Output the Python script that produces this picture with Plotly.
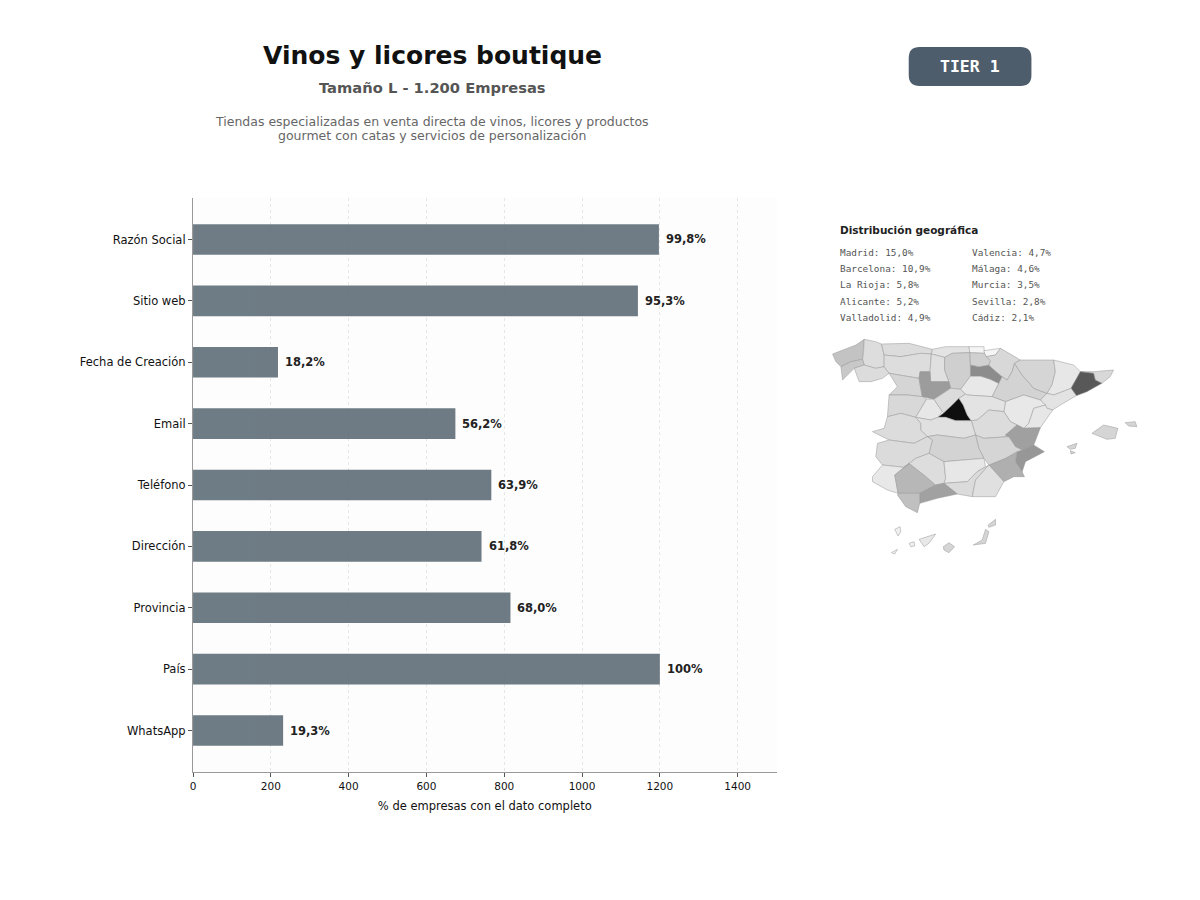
import plotly.graph_objects as go
from plotly.colors import sample_colorscale

W, H = 1200, 900

# Datos de las barras
campos = ['Razón Social', 'Sitio web', 'Fecha de Creación', 'Email', 'Teléfono',
          'Dirección', 'Provincia', 'País', 'WhatsApp']
empresas = [1197.6, 1143.6, 218.4, 674.4, 766.8, 741.6, 816, 1200, 231.6]
etiquetas = ['99,8%', '95,3%', '18,2%', '56,2%', '63,9%', '61,8%', '68,0%', '100%', '19,3%']
ticks_x = [0, 200, 400, 600, 800, 1000, 1200, 1400]

# Leyenda geográfica
geo_izq = ['Madrid: 15,0%', 'Barcelona: 10,9%', 'La Rioja: 5,8%', 'Alicante: 5,2%', 'Valladolid: 4,9%']
geo_der = ['Valencia: 4,7%', 'Málaga: 4,6%', 'Murcia: 3,5%', 'Sevilla: 2,8%', 'Cádiz: 2,1%']

# Peso de cada provincia (estimado del tono en el mapa) y contorno aproximado
provincias = {
    'A Coruña': (2.0, [(35, 72), (72, 58), (105, 45), (130, 28), (128, 70), (125, 88), (90, 95), (60, 110), (45, 95)]),
    'Lugo': (1.0, [(130, 28), (165, 35), (182, 42), (190, 75), (190, 110), (165, 115), (130, 105), (125, 88), (128, 70)]),
    'Pontevedra': (1.8, [(60, 110), (90, 95), (125, 88), (130, 105), (100, 115), (65, 150)]),
    'Ourense': (1.05, [(100, 115), (130, 105), (165, 115), (190, 110), (205, 130), (185, 145), (150, 155), (115, 155)]),
    'Asturias': (1.05, [(182, 42), (265, 40), (335, 58), (332, 72), (300, 70), (240, 80), (190, 75)]),
    'Cantabria': (0.8, [(335, 58), (375, 50), (445, 50), (448, 68), (395, 70), (372, 82), (332, 72)]),
    'León': (1.0, [(190, 75), (240, 80), (300, 70), (332, 72), (328, 125), (298, 125), (295, 145), (240, 135), (205, 130), (190, 110)]),
    'Palencia': (0.9, [(332, 72), (372, 82), (372, 120), (385, 155), (330, 155), (328, 125)]),
    'Burgos': (1.55, [(372, 82), (395, 70), (448, 68), (450, 105), (450, 138), (420, 178), (390, 175), (385, 155), (372, 120)]),
    'Zamora': (1.3, [(205, 130), (240, 135), (295, 145), (298, 165), (305, 200), (260, 195), (205, 195), (230, 170)]),
    'Valladolid': (4.9, [(298, 125), (328, 125), (330, 155), (385, 155), (390, 175), (340, 208), (305, 200), (298, 165), (295, 145)]),
    'Salamanca': (1.2, [(205, 195), (260, 195), (305, 200), (318, 207), (285, 262), (240, 250), (200, 260)]),
    'Ávila': (0.65, [(318, 207), (340, 208), (365, 245), (352, 262), (330, 270), (285, 262)]),
    'Segovia': (1.05, [(340, 208), (390, 175), (420, 178), (435, 192), (415, 205), (395, 225), (370, 248), (365, 245)]),
    'Madrid': (15.0, [(415, 205), (428, 225), (440, 255), (452, 272), (405, 272), (375, 262), (352, 262), (370, 248), (395, 225)]),
    'Soria': (0.6, [(420, 178), (450, 138), (480, 138), (510, 148), (535, 160), (515, 200), (440, 195), (435, 192)]),
    'La Rioja': (5.8, [(450, 105), (475, 110), (505, 105), (515, 115), (545, 140), (535, 160), (510, 148), (480, 138), (450, 138)]),
    'Vizcaya': (0.15, [(445, 50), (490, 50), (492, 70), (448, 68)]),
    'Guipúzcoa': (0.1, [(490, 62), (540, 55), (525, 75), (497, 80), (492, 70)]),
    'Álava': (1.5, [(448, 68), (492, 70), (497, 80), (510, 92), (505, 105), (475, 110), (450, 105)]),
    'Navarra': (1.2, [(497, 80), (525, 75), (540, 55), (565, 70), (600, 90), (582, 100), (575, 125), (560, 150), (545, 140), (515, 115), (505, 105), (510, 92)]),
    'Zaragoza': (1.4, [(575, 125), (582, 100), (605, 135), (640, 175), (680, 190), (660, 210), (610, 195), (555, 215), (515, 200), (535, 160), (545, 140), (560, 150)]),
    'Huesca': (1.3, [(600, 90), (700, 90), (705, 125), (695, 165), (680, 190), (640, 175), (605, 135), (582, 100)]),
    'Lleida': (0.65, [(700, 90), (760, 105), (780, 125), (770, 145), (752, 175), (700, 195), (680, 190), (695, 165), (705, 125)]),
    'Girona': (1.2, [(780, 125), (820, 125), (880, 120), (870, 140), (845, 160), (825, 150), (820, 130)]),
    'Barcelona': (10.9, [(780, 125), (820, 130), (825, 150), (845, 160), (800, 185), (768, 197), (752, 175), (770, 145)]),
    'Tarragona': (0.8, [(680, 190), (700, 195), (752, 175), (768, 197), (720, 225), (697, 240), (680, 235), (675, 225), (660, 210)]),
    'Teruel': (0.6, [(555, 215), (610, 195), (660, 210), (675, 225), (640, 235), (625, 280), (610, 295), (590, 285), (570, 275), (550, 245)]),
    'Castellón': (0.65, [(640, 235), (675, 225), (680, 235), (697, 240), (660, 293), (610, 295), (625, 280)]),
    'Guadalajara': (0.8, [(435, 192), (440, 195), (515, 200), (555, 215), (550, 245), (505, 240), (470, 270), (452, 272), (440, 255), (428, 225), (415, 205)]),
    'Cuenca': (1.05, [(452, 272), (470, 270), (505, 240), (550, 245), (570, 275), (590, 285), (555, 315), (565, 320), (490, 325), (465, 315)]),
    'Valencia': (4.7, [(590, 285), (610, 295), (660, 293), (640, 345), (605, 360), (585, 350), (565, 320), (555, 315)]),
    'Alicante': (5.2, [(605, 360), (640, 345), (672, 365), (615, 395), (605, 425), (585, 395), (590, 365)]),
    'Murcia': (3.5, [(505, 405), (555, 385), (590, 365), (585, 395), (605, 425), (612, 440), (580, 440), (550, 455)]),
    'Albacete': (1.3, [(465, 315), (490, 325), (565, 320), (585, 350), (605, 360), (590, 365), (555, 385), (505, 405), (490, 385), (475, 355)]),
    'Toledo': (0.9, [(300, 280), (285, 262), (330, 270), (352, 262), (375, 262), (405, 272), (452, 272), (465, 315), (430, 325), (385, 320), (350, 315), (320, 320), (300, 300)]),
    'Ciudad Real': (1.4, [(335, 330), (320, 320), (350, 315), (385, 320), (430, 325), (465, 315), (475, 355), (490, 385), (370, 395), (325, 370)]),
    'Cáceres': (1.05, [(155, 305), (190, 295), (200, 260), (240, 250), (285, 262), (300, 280), (300, 300), (320, 320), (280, 340), (205, 330)]),
    'Badajoz': (1.1, [(170, 340), (205, 330), (280, 340), (320, 320), (335, 330), (325, 370), (285, 385), (250, 412), (185, 405), (165, 380)]),
    'Huelva': (0.6, [(155, 440), (185, 405), (250, 412), (222, 435), (232, 490), (200, 480), (155, 455)]),
    'Sevilla': (2.8, [(222, 435), (250, 412), (265, 400), (310, 435), (345, 465), (297, 490), (232, 490)]),
    'Córdoba': (1.0, [(250, 412), (285, 385), (325, 370), (370, 395), (375, 445), (370, 460), (345, 465), (310, 435), (265, 400)]),
    'Jaén': (0.65, [(370, 395), (490, 385), (495, 410), (470, 425), (440, 455), (370, 460), (375, 445)]),
    'Granada': (1.1, [(370, 460), (440, 455), (470, 425), (495, 410), (505, 405), (465, 450), (455, 500), (410, 492)]),
    'Almería': (0.9, [(505, 405), (550, 455), (525, 500), (455, 500), (465, 450)]),
    'Málaga': (4.6, [(297, 520), (297, 490), (345, 465), (370, 460), (410, 492), (350, 505)]),
    'Cádiz': (2.1, [(232, 490), (297, 490), (297, 520), (290, 548), (255, 530), (230, 495)]),
    'Mallorca': (1.3, [(815, 310), (850, 285), (893, 295), (885, 325), (860, 328)]),
    'Menorca': (1.3, [(915, 278), (945, 275), (950, 290), (925, 288)]),
    'Ibiza': (1.3, [(740, 350), (770, 340), (765, 355), (750, 358)]),
    'Formentera': (1.3, [(750, 362), (765, 368), (752, 372)]),
    'Lanzarote': (1.3, [(503, 585), (525, 568), (525, 585), (505, 592)]),
    'Fuerteventura': (1.3, [(458, 645), (485, 630), (495, 598), (505, 605), (495, 640)]),
    'Gran Canaria': (1.3, [(368, 650), (385, 638), (402, 650), (385, 668), (370, 660)]),
    'Tenerife': (0.6, [(295, 628), (345, 612), (325, 640), (310, 650)]),
    'La Gomera': (0.3, [(265, 640), (280, 635), (282, 648), (270, 650)]),
    'La Palma': (0.3, [(222, 598), (238, 590), (240, 605), (232, 618)]),
    'El Hierro': (0.3, [(212, 668), (230, 658), (222, 672)]),
}

# Escala de grises del mapa, en % de empresas
TOPE_GEO = 15.0
escala_geo = [[0, '#f8f8f8'], [2.1 / TOPE_GEO, '#c0c0c0'], [4.7 / TOPE_GEO, '#a0a0a0'],
              [5.8 / TOPE_GEO, '#8c8c8c'], [10.9 / TOPE_GEO, '#585858'], [1, '#0f0f0f']]


def px_x(x):
    return x / W


def px_y(y):
    return 1 - y / H


def texto(x, y, txt, size, color, family='DejaVu Sans', anchor='center'):
    return dict(x=px_x(x), y=px_y(y), xref='paper', yref='paper', text=txt, showarrow=False,
                xanchor=anchor, yanchor='middle',
                font=dict(size=size, color=color, family=family))


fig = go.Figure()

fig.add_trace(go.Bar(
    x=empresas, y=campos, orientation='h', width=0.5,
    marker=dict(color='#5f6e79', line=dict(width=0)), opacity=0.9,
    hoverinfo='x+y', showlegend=False
))

for nombre, (peso, contorno) in provincias.items():
    xs = [p[0] for p in contorno] + [contorno[0][0]]
    ys = [p[1] for p in contorno] + [contorno[0][1]]
    color = sample_colorscale(escala_geo, [peso / TOPE_GEO])[0]
    fig.add_trace(go.Scatter(
        x=xs, y=ys, xaxis='x2', yaxis='y2', mode='lines', fill='toself', fillcolor=color,
        line=dict(color='#979797', width=0.5), name=nombre, hoverinfo='name', showlegend=False
    ))

anotaciones = [
    texto(430.5, 56, '<b>Vinos y licores boutique</b>', 25, '#111111'),
    texto(430.5, 87, '<b>Tamaño L - 1.200 Empresas</b>', 14.7, '#555555'),
    texto(430, 122, 'Tiendas especializadas en venta directa de vinos, licores y productos', 12.5, '#666666'),
    texto(430, 136, 'gourmet con catas y servicios de personalización', 12.5, '#666666'),
    texto(969, 66, '<b>TIER 1</b>', 16.5, '#ffffff', family='DejaVu Sans Mono'),
    texto(837.5, 230, '<b>Distribución geográfica</b>', 10.5, '#222222', anchor='left'),
]

for i, fila_y in enumerate([252, 268.3, 284.6, 301, 317.3]):
    anotaciones.append(texto(837.5, fila_y, geo_izq[i], 9.4, '#555555', family='DejaVu Sans Mono', anchor='left'))
    anotaciones.append(texto(969.5, fila_y, geo_der[i], 9.4, '#555555', family='DejaVu Sans Mono', anchor='left'))

for campo, valor, etiqueta in zip(campos, empresas, etiquetas):
    anotaciones.append(dict(x=valor, y=campo, xref='x', yref='y', text=f'<b>{etiqueta}</b>', showarrow=False,
                            xanchor='left', xshift=5, font=dict(size=11.5, color='#222222', family='DejaVu Sans')))

# Placa TIER 1 con esquinas redondeadas
x0, x1, y0, y1, r = px_x(908), px_x(1031), px_y(86), px_y(47), 11
rx, ry = r / W, r / H
placa = (f'M {x0 + rx} {y0} L {x1 - rx} {y0} Q {x1} {y0} {x1} {y0 + ry} L {x1} {y1 - ry} '
         f'Q {x1} {y1} {x1 - rx} {y1} L {x0 + rx} {y1} Q {x0} {y1} {x0} {y1 - ry} '
         f'L {x0} {y0 + ry} Q {x0} {y0} {x0 + rx} {y0} Z')

fig.update_layout(
    width=W, height=H, margin=dict(l=0, r=0, t=0, b=0),
    paper_bgcolor='white', plot_bgcolor='rgba(0,0,0,0)',
    font=dict(family='DejaVu Sans', color='#111111', size=12),
    showlegend=False, annotations=anotaciones,
    shapes=[
        dict(type='path', path=placa, xref='paper', yref='paper', fillcolor='#4e5d6c', line=dict(width=0)),
        # fondo solo para el panel de barras
        dict(type='rect', xref='paper', yref='paper', x0=px_x(190.5), x1=px_x(775.5), y0=px_y(772), y1=px_y(198),
             fillcolor='#fdfdfd', line=dict(width=0), layer='below'),
    ],
    xaxis=dict(domain=[px_x(190.5), px_x(775.5)], range=[0, 1500], tickvals=ticks_x,
               showline=True, linecolor='#999999', linewidth=1.2,
               ticks='outside', ticklen=4, tickcolor='#555555', tickwidth=1,
               showgrid=True, gridcolor='#e6e6e6', griddash='3px,3px', gridwidth=0.7, zeroline=False,
               title=dict(text='% de empresas con el dato completo', font=dict(size=11.5), standoff=11),
               tickfont=dict(size=10.5)),
    yaxis=dict(domain=[px_y(772), px_y(198)], range=[8.676, -0.676], type='category',
               categoryorder='array', categoryarray=campos,
               showline=True, linecolor='#999999', linewidth=1.2,
               ticks='outside', ticklen=4, tickcolor='#555555', tickwidth=1,
               showgrid=False, zeroline=False, tickfont=dict(size=11.5)),
    xaxis2=dict(domain=[px_x(820), px_x(1150)], range=[0, 990], anchor='y2', visible=False),
    yaxis2=dict(domain=[px_y(565), px_y(330)], range=[705, 0], anchor='x2', visible=False),
)

# el margen por defecto del body desplaza todo unos pixeles
fig.write_html("out.html", config=dict(displayModeBar=False), post_script="document.body.style.margin='0';")
